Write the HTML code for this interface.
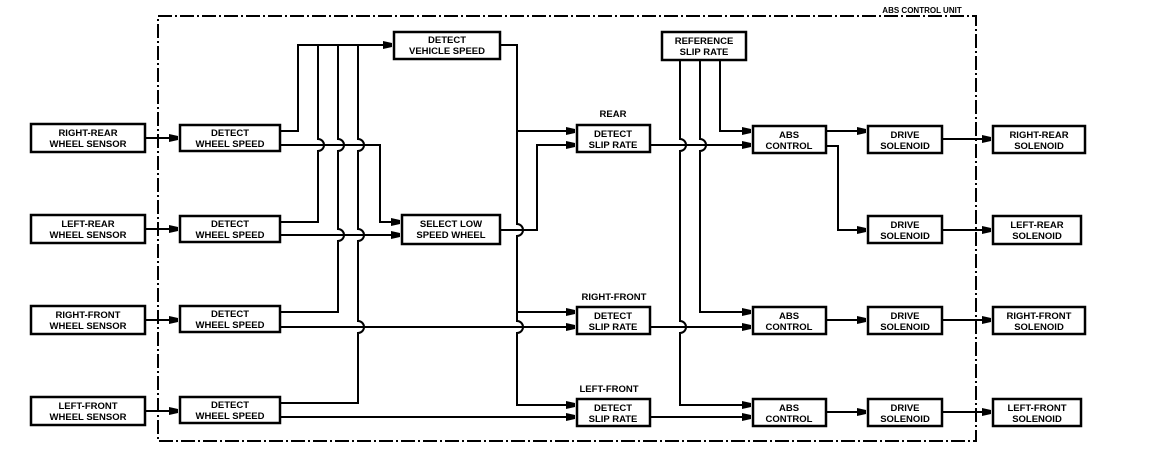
<!DOCTYPE html>
<html><head><meta charset="utf-8"><style>
body{margin:0;background:#fff;width:1152px;height:450px;overflow:hidden}
svg text{font-family:"Liberation Sans",sans-serif;font-weight:bold;font-size:9.5px;fill:#000;text-anchor:middle}
</style></head><body>
<svg width="1152" height="450" viewBox="0 0 1152 450" xmlns="http://www.w3.org/2000/svg">
<defs>
<marker id="a" markerWidth="10" markerHeight="10" refX="9" refY="5" orient="auto" markerUnits="userSpaceOnUse">
<path d="M0,1 L9,3 L9,7 L0,9 Z" fill="#000"/></marker>
</defs>
<!-- control unit boundary -->
<rect x="158" y="16" width="818" height="425" fill="none" stroke="#000" stroke-width="2" stroke-dasharray="14,3,2,3"/>
<text x="922" y="13" style="font-size:8px">ABS CONTROL UNIT</text>

<g fill="#fff" stroke="#000" stroke-width="2.5">
<rect x="31" y="124" width="114" height="28"/>
<rect x="31" y="215" width="114" height="28"/>
<rect x="31" y="306" width="114" height="28"/>
<rect x="31" y="397" width="114" height="28"/>
<rect x="180" y="125" width="100" height="26"/>
<rect x="180" y="216" width="100" height="26"/>
<rect x="180" y="306" width="100" height="26"/>
<rect x="180" y="397" width="100" height="26"/>
<rect x="394" y="32" width="106" height="27"/>
<rect x="402" y="215" width="98" height="29"/>
<rect x="577" y="125" width="73" height="27"/>
<rect x="577" y="307" width="73" height="27"/>
<rect x="577" y="399" width="73" height="27"/>
<rect x="662" y="32" width="84" height="28"/>
<rect x="753" y="126" width="73" height="27"/>
<rect x="753" y="307" width="73" height="27"/>
<rect x="753" y="399" width="73" height="27"/>
<rect x="868" y="126" width="74" height="27"/>
<rect x="868" y="216" width="74" height="27"/>
<rect x="868" y="307" width="74" height="27"/>
<rect x="868" y="399" width="74" height="27"/>
<rect x="993" y="126" width="92" height="27"/>
<rect x="993" y="216" width="88" height="28"/>
<rect x="993" y="307" width="92" height="27"/>
<rect x="993" y="399" width="88" height="27"/>
</g>

<g fill="none" stroke="#000" stroke-width="2">
<!-- sensors -->
<path d="M145,138 H178" marker-end="url(#a)"/>
<path d="M145,229 H178" marker-end="url(#a)"/>
<path d="M145,320 H178" marker-end="url(#a)"/>
<path d="M145,411 H178" marker-end="url(#a)"/>
<!-- wheel speed to vehicle speed -->
<path d="M280,131 H298 V45 H392" marker-end="url(#a)"/>
<path d="M318,45 V139 A6,6 0 0 1 318,151 V222 H280"/>
<path d="M338,45 V139 A6,6 0 0 1 338,151 V229 A6,6 0 0 1 338,241 V312 H280"/>
<path d="M358,45 V139 A6,6 0 0 1 358,151 V229 A6,6 0 0 1 358,241 V321 A6,6 0 0 1 358,333 V403 H280"/>
<path d="M280,145 H380 V222 H400" marker-end="url(#a)"/>
<path d="M280,235 H400" marker-end="url(#a)"/>
<path d="M280,327 H575" marker-end="url(#a)"/>
<path d="M280,417 H575" marker-end="url(#a)"/>
<!-- vehicle speed to slip -->
<path d="M500,45 H517 V224 A6,6 0 0 1 517,236 V321 A6,6 0 0 1 517,333 V405 H575" marker-end="url(#a)"/>
<path d="M517,131 H575" marker-end="url(#a)"/>
<path d="M517,312 H575" marker-end="url(#a)"/>
<path d="M500,230 H537 V145 H575" marker-end="url(#a)"/>
<!-- reference slip -->
<path d="M720,60 V131 H751" marker-end="url(#a)"/>
<path d="M700,60 V139 A6,6 0 0 1 700,151 V312 H751" marker-end="url(#a)"/>
<path d="M680,60 V139 A6,6 0 0 1 680,151 V321 A6,6 0 0 1 680,333 V405 H751" marker-end="url(#a)"/>
<path d="M650,145 H751" marker-end="url(#a)"/>
<path d="M650,327 H751" marker-end="url(#a)"/>
<path d="M650,417 H751" marker-end="url(#a)"/>
<!-- abs to drive -->
<path d="M826,131 H866" marker-end="url(#a)"/>
<path d="M826,146 H838 V230 H866" marker-end="url(#a)"/>
<path d="M826,320 H866" marker-end="url(#a)"/>
<path d="M826,412 H866" marker-end="url(#a)"/>
<!-- drive to solenoid -->
<path d="M942,139 H991" marker-end="url(#a)"/>
<path d="M942,230 H991" marker-end="url(#a)"/>
<path d="M942,320 H991" marker-end="url(#a)"/>
<path d="M942,412 H991" marker-end="url(#a)"/>
</g>

<g>
<text x="88" y="136">RIGHT-REAR</text><text x="88" y="147">WHEEL SENSOR</text>
<text x="88" y="227">LEFT-REAR</text><text x="88" y="238">WHEEL SENSOR</text>
<text x="88" y="318">RIGHT-FRONT</text><text x="88" y="329">WHEEL SENSOR</text>
<text x="88" y="409">LEFT-FRONT</text><text x="88" y="420">WHEEL SENSOR</text>
<text x="230" y="136">DETECT</text><text x="230" y="147">WHEEL SPEED</text>
<text x="230" y="227">DETECT</text><text x="230" y="238">WHEEL SPEED</text>
<text x="230" y="317">DETECT</text><text x="230" y="328">WHEEL SPEED</text>
<text x="230" y="408">DETECT</text><text x="230" y="419">WHEEL SPEED</text>
<text x="447" y="43">DETECT</text><text x="447" y="54">VEHICLE SPEED</text>
<text x="451" y="227">SELECT LOW</text><text x="451" y="238">SPEED WHEEL</text>
<text x="613" y="117">REAR</text>
<text x="613" y="137">DETECT</text><text x="613" y="148">SLIP RATE</text>
<text x="614" y="300">RIGHT-FRONT</text>
<text x="613" y="319">DETECT</text><text x="613" y="330">SLIP RATE</text>
<text x="609" y="392">LEFT-FRONT</text>
<text x="613" y="411">DETECT</text><text x="613" y="422">SLIP RATE</text>
<text x="704" y="44">REFERENCE</text><text x="704" y="55">SLIP RATE</text>
<text x="789" y="138">ABS</text><text x="789" y="149">CONTROL</text>
<text x="789" y="319">ABS</text><text x="789" y="330">CONTROL</text>
<text x="789" y="411">ABS</text><text x="789" y="422">CONTROL</text>
<text x="905" y="138">DRIVE</text><text x="905" y="149">SOLENOID</text>
<text x="905" y="228">DRIVE</text><text x="905" y="239">SOLENOID</text>
<text x="905" y="319">DRIVE</text><text x="905" y="330">SOLENOID</text>
<text x="905" y="411">DRIVE</text><text x="905" y="422">SOLENOID</text>
<text x="1039" y="138">RIGHT-REAR</text><text x="1039" y="149">SOLENOID</text>
<text x="1037" y="228">LEFT-REAR</text><text x="1037" y="239">SOLENOID</text>
<text x="1039" y="319">RIGHT-FRONT</text><text x="1039" y="330">SOLENOID</text>
<text x="1037" y="411">LEFT-FRONT</text><text x="1037" y="422">SOLENOID</text>
</g>
</svg>
</body></html>
